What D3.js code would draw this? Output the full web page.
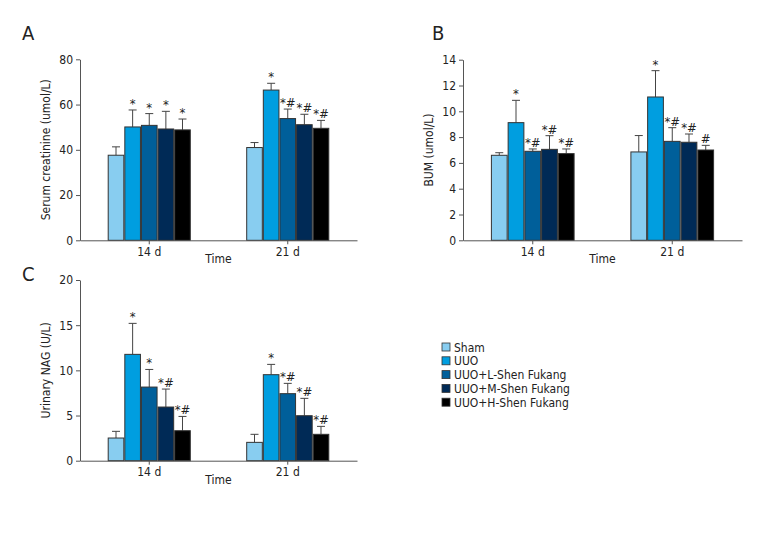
<!DOCTYPE html>
<html>
<head>
<meta charset="utf-8">
<script src="https://cdn.jsdelivr.net/npm/d3@7"></script>
<style>
  body { margin: 0; background: #fff; }
  svg text { font-family: "Liberation Sans Narrow", "DejaVu Sans Condensed", "Roboto Condensed", sans-serif; fill: #222; }
</style>
</head>
<body>
<svg width="780" height="540"></svg>
<script>
// groups and series
const times = ["14 d", "21 d"];
const groups = ["Sham", "UUO", "UUO+L-Shen Fukang", "UUO+M-Shen Fukang", "UUO+H-Shen Fukang"];
const colors = ["#88cdf0", "#009ee0", "#005f9a", "#002a56", "#000000"];

// panel A: serum creatinine, [14 d, 21 d] per group
const creatMean = [[37.6, 41.0], [50.1, 66.4], [50.8, 53.8], [49.2, 51.1], [48.8, 49.5]];
const creatErr  = [[41.3, 43.2], [57.6, 69.4], [56.0, 58.0], [57.0, 55.7], [53.6, 53.0]];
const creatSig  = [["", ""], ["*", "*"], ["*", "*#"], ["*", "*#"], ["*", "*#"]];
const creatTicks = [0, 20, 40, 60, 80];

// panel B: BUM
const bumMean = [[6.59, 6.85], [9.12, 11.11], [6.90, 7.67], [7.05, 7.60], [6.72, 7.00]];
const bumErr  = [[6.79, 8.12], [10.85, 13.15], [7.08, 8.73], [8.11, 8.24], [7.08, 7.36]];
const bumSig  = [["", ""], ["*", "*"], ["*#", "*#"], ["*#", "*#"], ["*#", "#"]];
const bumTicks = [0, 2, 4, 6, 8, 10, 12, 14];

// panel C: urinary NAG
const nagMean = [[2.51, 2.03], [11.77, 9.52], [8.15, 7.42], [5.94, 4.98], [3.32, 2.92]];
const nagErr  = [[3.25, 2.92], [15.2, 10.66], [10.1, 8.56], [7.93, 6.9], [4.9, 3.8]];
const nagSig  = [["", ""], ["*", "*"], ["*", "*#"], ["*#", "*#"], ["*#", "*#"]];
const nagTicks = [0, 5, 10, 15, 20];

const svg = d3.select("svg");

function drawPanel(opt) {
  const g = svg.append("g");
  const x0 = d3.scaleBand().domain(times).range([opt.left, opt.right])
    .paddingInner(0.4).paddingOuter(0.2);
  const x1 = d3.scaleBand().domain(groups).range([0, x0.bandwidth()]);
  const y = d3.scaleLinear().domain([0, opt.max]).range([opt.bottom, opt.top]);

  const rows = [];
  groups.forEach((grp, gi) => {
    times.forEach((t, ti) => {
      rows.push({grp, gi, t, mean: opt.mean[gi][ti], err: opt.err[gi][ti], sig: opt.sig[gi][ti]});
    });
  });

  // error bars (drawn behind bars)
  const eb = g.selectAll(".eb").data(rows).enter().append("g")
    .attr("stroke", "#444").attr("stroke-width", 1);
  eb.append("line")
    .attr("x1", d => x0(d.t) + x1(d.grp) + x1.bandwidth() / 2)
    .attr("x2", d => x0(d.t) + x1(d.grp) + x1.bandwidth() / 2)
    .attr("y1", d => y(d.mean)).attr("y2", d => y(d.err));
  eb.append("line")
    .attr("x1", d => x0(d.t) + x1(d.grp) + x1.bandwidth() / 2 - 4)
    .attr("x2", d => x0(d.t) + x1(d.grp) + x1.bandwidth() / 2 + 4)
    .attr("y1", d => y(d.err)).attr("y2", d => y(d.err));

  g.selectAll(".bar").data(rows).enter().append("rect")
    .attr("x", d => x0(d.t) + x1(d.grp) + 0.5)
    .attr("width", x1.bandwidth() - 1)
    .attr("y", d => y(d.mean))
    .attr("height", d => y(0) - y(d.mean))
    .attr("fill", d => colors[d.gi])
    .attr("stroke", "#333").attr("stroke-width", 1);

  g.selectAll(".sig").data(rows.filter(d => d.sig)).enter().append("text")
    .attr("x", d => x0(d.t) + x1(d.grp) + x1.bandwidth() / 2)
    .attr("y", d => y(d.err) - 2)
    .attr("text-anchor", "middle")
    .attr("font-size", 13)
    .text(d => d.sig);

  // axes
  const ya = g.append("g").attr("transform", `translate(${opt.left},0)`)
    .call(d3.axisLeft(y).tickValues(opt.ticks).tickSize(4).tickPadding(3).tickSizeOuter(0));
  const xa = g.append("g").attr("transform", `translate(0,${opt.bottom})`)
    .call(d3.axisBottom(x0).tickSize(4).tickPadding(3).tickSizeOuter(0));
  [ya, xa].forEach(a => {
    a.select(".domain").attr("stroke", "#555");
    a.selectAll(".tick line").attr("stroke", "#555");
    a.selectAll("text").attr("font-size", 12).attr("fill", "#222")
      .style("font-family", '"Liberation Sans Narrow", "DejaVu Sans Condensed", sans-serif');
  });

  g.append("text")
    .attr("transform", `translate(${opt.left - 30},${(opt.top + opt.bottom) / 2}) rotate(-90)`)
    .attr("text-anchor", "middle").attr("font-size", 12)
    .text(opt.ylabel);

  g.append("text")
    .attr("x", (x0("14 d") + x0.bandwidth() + x0("21 d")) / 2)
    .attr("y", opt.bottom + 23)
    .attr("text-anchor", "middle").attr("font-size", 12)
    .text("Time");

  g.append("text")
    .attr("x", opt.lx).attr("y", opt.ly)
    .attr("font-size", 20)
    .text(opt.letter);
}

drawPanel({letter: "A", lx: 22, ly: 40, left: 80, right: 357, top: 59.3, bottom: 240.3,
  max: 80, ticks: creatTicks, mean: creatMean, err: creatErr, sig: creatSig,
  ylabel: "Serum creatinine (umol/L)"});
drawPanel({letter: "B", lx: 432, ly: 40, left: 463, right: 742, top: 59.7, bottom: 240.3,
  max: 14, ticks: bumTicks, mean: bumMean, err: bumErr, sig: bumSig,
  ylabel: "BUM (umol/L)"});
drawPanel({letter: "C", lx: 22, ly: 281, left: 80, right: 357, top: 280, bottom: 460.7,
  max: 20, ticks: nagTicks, mean: nagMean, err: nagErr, sig: nagSig,
  ylabel: "Urinary NAG (U/L)"});

// legend
const leg = svg.append("g").attr("transform", "translate(442,343)");
const li = leg.selectAll("g").data(groups).enter().append("g")
  .attr("transform", (d, i) => `translate(0,${i * 13.8})`);
li.append("rect").attr("width", 8).attr("height", 8)
  .attr("fill", (d, i) => colors[i]).attr("stroke", "#333").attr("stroke-width", 0.8);
li.append("text").attr("x", 12).attr("y", 8.5).attr("font-size", 12).text(d => d);
</script>
</body>
</html>
